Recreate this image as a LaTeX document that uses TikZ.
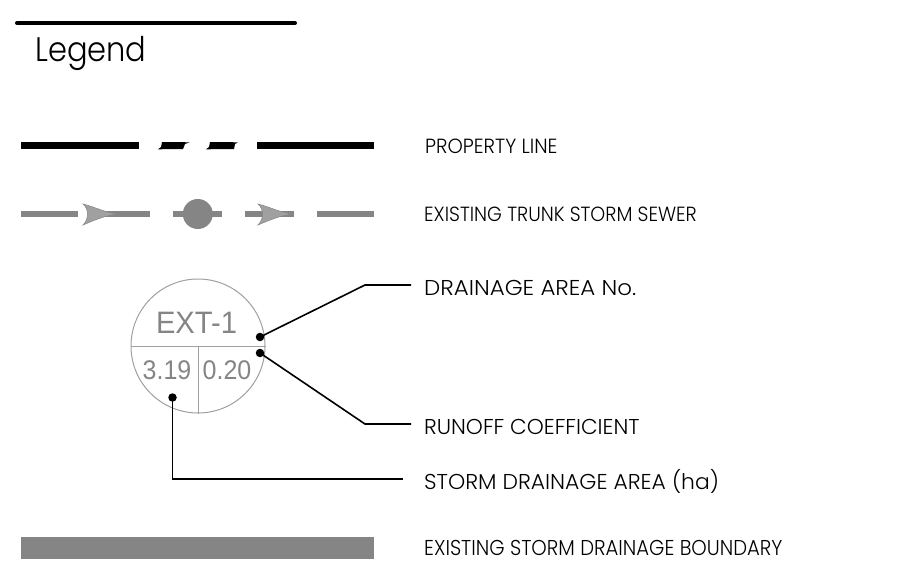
\documentclass[tikz,border=0pt]{standalone}
\usepackage{fontspec}
\setmainfont{Poppins}[UprightFont=* Light]
\newfontfamily\arialf{Liberation Sans}
\definecolor{lineg}{HTML}{858585}
\definecolor{arrowg}{HTML}{A0A0A0}
\definecolor{circg}{HTML}{A0A0A0}
\definecolor{textg}{HTML}{858585}
\newcommand{\sx}[2]{\scalebox{#1}[1]{#2}}
\tikzset{
  x=1pt,y=-1pt,
  prop/.style={line width=6.5pt,black},
  sewer/.style={line width=6.2pt,lineg},
  flow/.style={fill=arrowg,draw=lineg,line width=.5pt},
  bubble/.style={draw=circg,line width=1pt},
  lab/.style={anchor=base west,inner sep=0pt,font=\fontsize{21.5}{21.5}\selectfont,text=black},
  labs/.style={anchor=base west,inner sep=0pt,font=\fontsize{20.5}{20.5}\selectfont,text=black},
  num/.style={inner sep=0pt,text=textg},
  pin/.style={circle,fill=black,inner sep=0pt,minimum size=8.5pt},
  lead/.style={draw=black,line width=1.6pt},
}
\begin{document}
\begin{tikzpicture}
\useasboundingbox (0,0) rectangle (900,578);
\draw[line width=4pt,line cap=round] (17,23) -- (295,23);
\node[anchor=base west,inner sep=0pt,font=\fontsize{34}{34}\selectfont] (title) at (35,62) {\sx{0.897}{Legend}};
% property line
\draw[prop] (21,145.3) -- (139,145.3);
\fill (162,142) -- (190,142.3) -- (185,144) -- (183,149) -- (158,149.3) -- (161,147) -- cycle;
\fill (210,142) -- (238,142.3) -- (235,144) -- (234,149) -- (206,149.3) -- (209,147) -- cycle;
\draw[prop] (257,145.3) -- (374,145.3);
\node[labs] (l1) at (425,153) {\sx{0.95}{PROPERTY LINE}};
% sewer
\draw[sewer] (21,214) -- (78,214);
\draw[sewer] (90,214) -- (150,214);
\draw[sewer] (173,214) -- (222,214);
\draw[sewer] (245,214) -- (294,214);
\draw[sewer] (317,214) -- (374,214);
\fill[lineg] (197.8,214) circle (15);
\draw[flow] (83,204) .. controls (95,207) and (105,212.5) .. (118,214) .. controls (105,215.5) and (95,220) .. (83,225) .. controls (89,219) and (89,209) .. cycle;
\draw[flow] (258,204) .. controls (270,207) and (280,212.5) .. (293,214) .. controls (280,215.5) and (270,220) .. (258,225) .. controls (264,219) and (264,209) .. cycle;
\node[labs] (l2) at (424,221) {\sx{0.925}{EXISTING TRUNK STORM SEWER}};
% bubble
\node[bubble,circle,minimum size=134pt,inner sep=0pt] (bub) at (198,346) {};
\draw[bubble] (bub.west) -- (bub.east);
\draw[bubble] (bub.center) -- (bub.south);
\node[num,font=\arialf\fontsize{31}{31}\selectfont] (ext) at (196.5,323) {\sx{0.94}{EXT-1}};
\node[num,font=\arialf\fontsize{27}{27}\selectfont] (area) at (167,370) {\sx{0.925}{3.19}};
\node[num,font=\arialf\fontsize{27}{27}\selectfont] (coef) at (227,370) {\sx{0.925}{0.20}};
\node[pin] (p1) at (260,337) {};
\node[pin] (p2) at (260,353) {};
\node[pin] (p3) at (172.5,397.5) {};
\coordinate (b1) at (365,285);
\coordinate (b2) at (365,424);
\coordinate (b3) at (172.5,479);
\node[lab] (l3) at (424,295) {\sx{1.067}{DRAINAGE AREA No.}};
\node[lab] (l4) at (424,434) {\sx{1.005}{RUNOFF COEFFICIENT}};
\node[lab] (l5) at (424,489) {\sx{1.018}{STORM DRAINAGE AREA (ha)}};
\coordinate (e1) at (411,285);
\coordinate (e2) at (411,424);
\coordinate (e3) at (403,479);
\draw[lead] (p1.center) -- (b1) -- (e1);
\draw[lead] (p2.center) -- (b2) -- (e2);
\draw[lead] (p3.center) -- (b3) -- (e3);
% boundary
\fill[lineg] (21,537) rectangle (374,559);
\node[lab] (l6) at (424,555) {\sx{0.912}{EXISTING STORM DRAINAGE BOUNDARY}};
\end{tikzpicture}
\end{document}
